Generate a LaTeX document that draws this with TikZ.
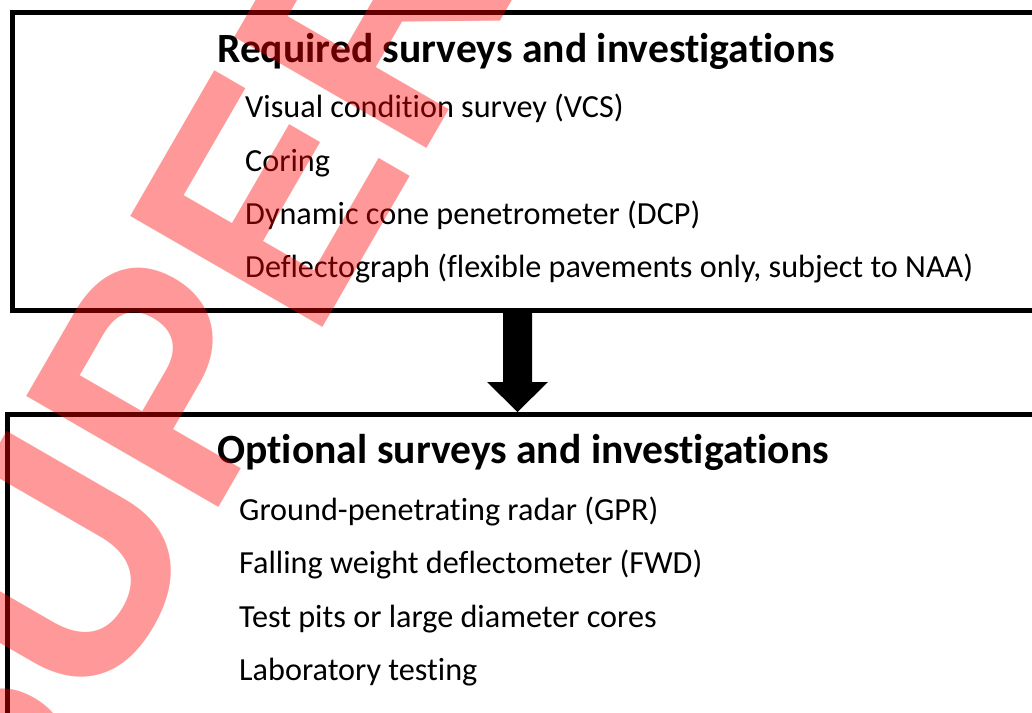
\documentclass[tikz,border=0pt]{standalone}
\usepackage{fontspec}
\setmainfont{Carlito}[Ligatures=CommonOff]
\newfontfamily\stampfamily{Liberation Sans}
\usetikzlibrary{calc}
\newcommand\stampfontat[1]{\fontsize{#1bp}{#1bp}\selectfont\stampfamily\bfseries}
\newlength\stampoffset
\newlength\stampadv
\begin{document}%
% size the stamp so that its capitals are 222bp tall
\sbox0{\stampfontat{100}E}%
\pgfmathsetmacro\stampsize{(222bp)/(\the\ht0)*100}%
\newcommand\stampfont{\stampfontat{\stampsize}}%
% side bearings of P and E, and the widths needed to place the word
\sbox0{\stampfont
 \xdef\lsbE{\the\XeTeXglyphbounds1 \XeTeXcharglyph`E }%
 \xdef\lsbP{\the\XeTeXglyphbounds1 \XeTeXcharglyph`P }}%
\settowidth{\stampadv}{\stampfont P}%
\settowidth{\stampoffset}{\stampfont SUP}%
\pgfmathsetmacro\stampx{(207.5bp)/(\the\stampadv-\lsbP+\lsbE)}%
\pgfmathsetlengthmacro\stampshift{\stampx*(\the\stampoffset+\lsbE)}%
\begin{tikzpicture}[x=1bp, y=-1bp,
  panel/.style={draw, line width=5bp, rectangle, inner sep=0pt, outer sep=0pt},
  heading/.style={anchor=base west, inner sep=0pt, font=\fontsize{41.6bp}{41.6bp}\selectfont\bfseries},
  entry/.style={anchor=base west, inner sep=0pt, font=\fontsize{32.2bp}{32.2bp}\selectfont},
  stamp/.style={anchor=base west, inner sep=0pt, rotate=60, xscale=\stampx, text=red, text opacity=0.4, font=\stampfont}]
\useasboundingbox (0,0) rectangle (1032,713);
\clip (0,0) rectangle (1032,713);
\fill[white] (0,0) rectangle (1032,713);

% the two panels (both run past the right and bottom edges)
\node[panel, anchor=north west, minimum width=1100bp, minimum height=298bp] (req) at (12.5,12.5) {};
\node[panel, anchor=north west, minimum width=1100bp, minimum height=400bp] (opt) at (7,414.5) {};

% required
\node[heading] (reqhead) at (217,63) {Required surveys and investigations};
\node[entry] (vcs) at (245,118) {Visual condition survey (VCS)};
\node[entry] (cor) at (245,172) {Coring};
\node[entry] (dcp) at (245,224) {Dynamic cone penetrometer (DCP)};
\node[entry] (dfl) at (245,277) {Deflectograph (flexible pavements only, subject to NAA)};

% optional
\node[heading] (opthead) at (217,463) {Optional surveys and investigations};
\node[entry] (gpr) at (239,520) {Ground-penetrating radar (GPR)};
\node[entry] (fwd) at (239,573) {Falling weight deflectometer (FWD)};
\node[entry] (pit) at (239,627) {Test pits or large diameter cores};
\node[entry] (lab) at (239,680) {Laboratory testing};

% block arrow between the panels
\coordinate (from) at (517.5,310.5);
\coordinate (to) at (517.5,412);
\fill ($(from)+(-14.5,0)$) -- ($(from)+(14.5,0)$) -- ($(to)+(14.5,-30)$)
  -- ($(to)+(30.5,-30)$) -- (to) -- ($(to)+(-30.5,-30)$) -- ($(to)+(-14.5,-30)$) -- cycle;

% stamp across the page
\coordinate (ecorner) at (323,328);
\node[stamp] (stampword) at ($(ecorner)+(240:\stampshift)$) {SUPERSEDED};
\end{tikzpicture}
\end{document}
